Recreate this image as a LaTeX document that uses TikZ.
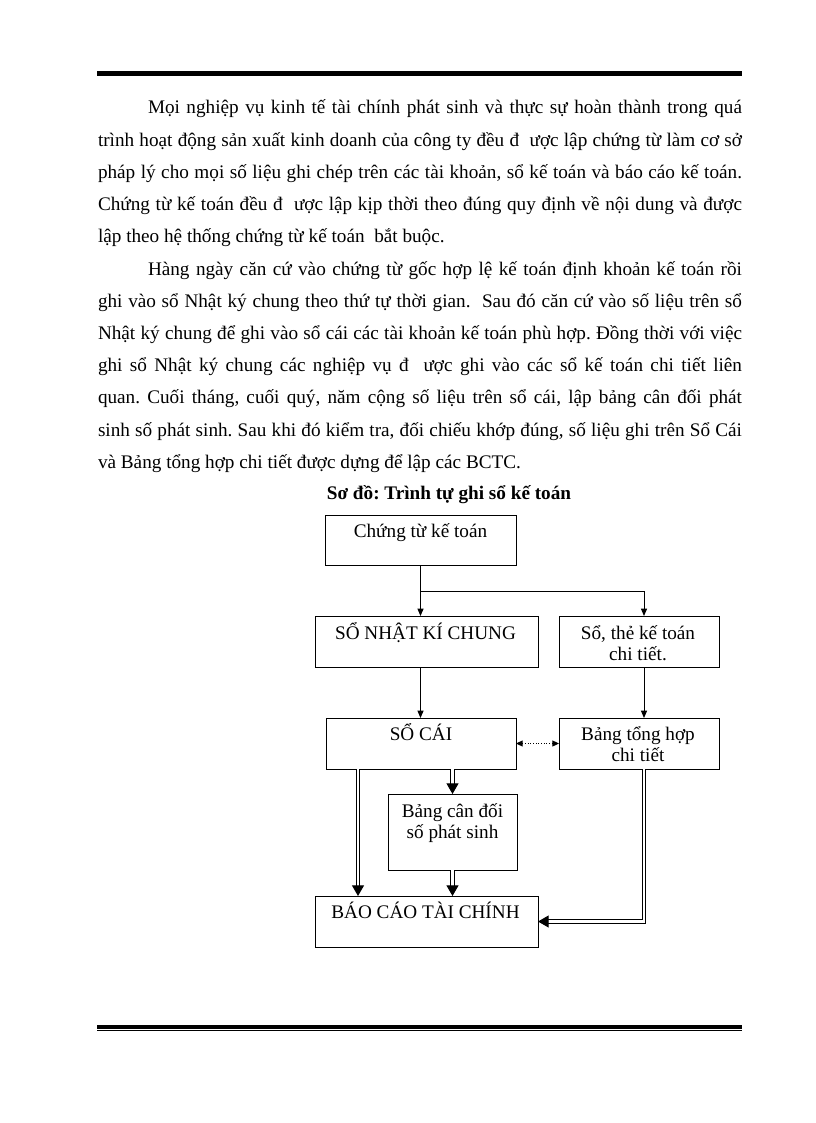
\documentclass[tikz,border=0pt]{standalone}
\usepackage{fontspec}
\setmainfont{Liberation Serif}
\usetikzlibrary{arrows.meta,calc}
\frenchspacing
\newcommand{\bodyfnt}{\fontsize{14.4pt}{17pt}\selectfont}
\newcommand{\jl}[1]{\makebox[483pt][s]{#1}}
\newcommand{\ji}[1]{\makebox[445.5pt][s]{#1}}
\begin{document}
\begin{tikzpicture}[x=0.75pt,y=-0.75pt,
  txt/.style={anchor=base west, inner sep=0pt, outer sep=0pt, font=\bodyfnt},
  lbl/.style={anchor=base, inner sep=0pt, outer sep=0pt, font=\bodyfnt},
  box/.style={draw, line width=0.75pt, inner sep=0pt, outer sep=0pt, fill=white},
  arr/.style={line width=0.75pt, -{Triangle[width=4.5pt,length=5.5pt]}},
  darr/.style={double, double distance=1.8pt, line width=0.8pt, -{Triangle[width=9pt,length=8pt]}},
  dotarr/.style={line width=0.75pt, dash pattern=on 0.75pt off 1.25pt, {Triangle[width=4.5pt,length=5pt]}-{Triangle[width=4.5pt,length=5pt]}},
  rulebar/.style={fill=black}
]
\useasboundingbox[fill=white] (0,0) rectangle (816,1123);

% rules
\fill[rulebar] (97,71) rectangle (742,74.6);
\fill[rulebar] (97,75.4) rectangle (742,76.4);
\fill[rulebar] (97,1025) rectangle (742,1028.8);
\fill[rulebar] (97,1029.6) rectangle (742,1030.6);

% paragraph 1
\node[txt] (l1) at (148,114) {\ji{Mọi nghiệp vụ kinh tế tài chính phát sinh và thực sự hoàn thành trong quá}};
\node[txt] (l2) at (98,146.2) {\jl{trình hoạt động sản xuất kinh doanh của công ty đều đ\ \ ược lập chứng từ làm cơ sở}};
\node[txt] (l3) at (98,178.4) {\jl{pháp lý cho mọi số liệu ghi chép trên các tài khoản, sổ kế toán và báo cáo kế toán.}};
\node[txt] (l4) at (98,210.6) {\jl{Chứng từ kế toán đều đ\ \ ược lập kịp thời theo đúng quy định về nội dung và được}};
\node[txt] (l5) at (98,242.8) {lập theo hệ thống chứng từ kế toán\ \ bắt buộc.};

% paragraph 2
\node[txt] (l6) at (148,275) {\ji{Hàng ngày căn cứ vào chứng từ gốc hợp lệ kế toán định khoản kế toán rồi}};
\node[txt] (l7) at (98,307.2) {\jl{ghi vào sổ Nhật ký chung theo thứ tự thời gian.\ \ Sau đó căn cứ vào số liệu trên sổ}};
\node[txt] (l8) at (98,339.4) {\jl{Nhật ký chung để ghi vào sổ cái các tài khoản kế toán phù hợp. Đồng thời với việc}};
\node[txt] (l9) at (98,371.6) {\jl{ghi sổ Nhật ký chung các nghiệp vụ đ\ \ ược ghi vào các sổ kế toán chi tiết liên}};
\node[txt] (l10) at (98,403.8) {\jl{quan. Cuối tháng, cuối quý, năm cộng số liệu trên sổ cái, lập bảng cân đối phát}};
\node[txt] (l11) at (98,436) {\jl{sinh số phát sinh. Sau khi đó kiểm tra, đối chiếu khớp đúng, số liệu ghi trên Sổ Cái}};
\node[txt] (l12) at (98,468.2) {và Bảng tổng hợp chi tiết được dựng để lập các BCTC.};

% title
\node[lbl, font=\bodyfnt\bfseries] (title) at (449,499) {Sơ đồ: Trình tự ghi sổ kế toán};

% boxes
\node[box, minimum width=143.25pt, minimum height=37.5pt] (ct) at (420.5,540) {};
\node[box, minimum width=167.25pt, minimum height=38.25pt] (nkc) at (426.5,641.5) {};
\node[box, minimum width=120pt, minimum height=38.25pt] (stt) at (639,641.5) {};
\node[box, minimum width=142.5pt, minimum height=38.25pt] (sc) at (421,743.5) {};
\node[box, minimum width=120pt, minimum height=38.25pt] (bth) at (639,743.5) {};
\node[box, minimum width=96.75pt, minimum height=57pt] (bcd) at (452.5,832) {};
\node[box, minimum width=167.25pt, minimum height=38.25pt] (bctc) at (426.5,921.5) {};

% labels
\node[lbl] (ctT) at ($(ct.north)+(0,22)$) {Chứng từ kế toán};
\node[lbl] (nkcT) at ($(nkc.north)+(-1,23)$) {SỔ NHẬT KÍ CHUNG};
\node[lbl] (sttA) at ($(stt.north)+(-1,23)$) {Sổ, thẻ kế toán};
\node[lbl] (sttB) at ($(stt.north)+(-1,44.7)$) {chi tiết.};
\node[lbl] (scT) at ($(sc.north)+(0,22.7)$) {SỔ CÁI};
\node[lbl] (bthA) at ($(bth.north)+(-1,22.7)$) {Bảng tổng hợp};
\node[lbl] (bthB) at ($(bth.north)+(-1,43.7)$) {chi tiết};
\node[lbl] (bcdA) at ($(bcd.north)+(0,23)$) {Bảng cân đối};
\node[lbl] (bcdB) at ($(bcd.north)+(0,44)$) {số phát sinh};
\node[lbl] (bctcT) at ($(bctc.north)+(-1,22)$) {BÁO CÁO TÀI CHÍNH};

% helper coordinates
\coordinate (br) at (420.5,591);
\coordinate (xR) at (644,0);
\coordinate (xL) at (358,0);

% connectors
\draw[arr] (ct.south) -- (ct.south |- nkc.north);
\draw[arr] (br) -| (xR |- stt.north);
\draw[arr] (nkc.south -| ct.south) -- (sc.north -| ct.south);
\draw[arr] (xR |- stt.south) -- (xR |- bth.north);
\draw[dotarr] (sc.east) -- (bth.west);
\draw[darr] (xL |- sc.south) -- (xL |- bctc.north);
\draw[darr] (sc.south -| bcd.north) -- (bcd.north);
\draw[darr] (bcd.south) -- (bcd.south |- bctc.north);
\draw[darr] (xR |- bth.south) |- (bctc.east);
\end{tikzpicture}
\end{document}
